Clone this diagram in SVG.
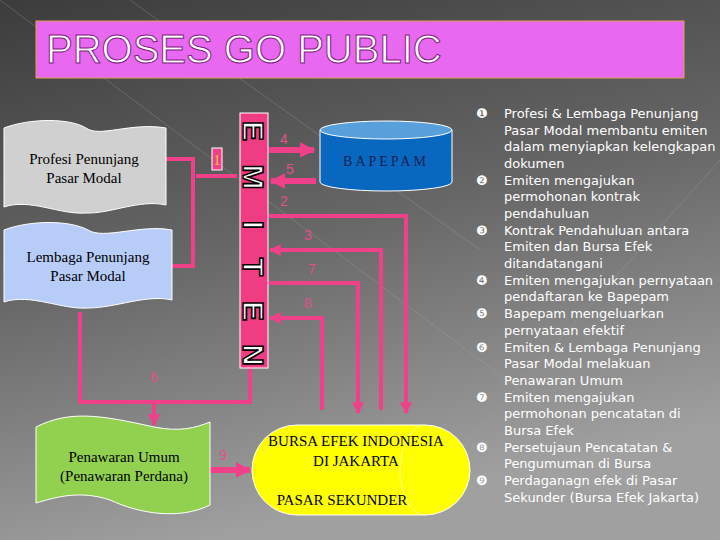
<svg xmlns="http://www.w3.org/2000/svg" width="720" height="540" viewBox="0 0 720 540">
<defs>
<linearGradient id="bg" x1="0" y1="0" x2="0.3" y2="1"><stop offset="0" stop-color="#3c3c3c"/><stop offset="0.5" stop-color="#666"/><stop offset="1" stop-color="#a0a0a0"/></linearGradient>
<marker id="ah" viewBox="0 0 10 10" refX="9" refY="5" markerWidth="3" markerHeight="3" orient="auto" markerUnits="strokeWidth"><path d="M0,0L10,5L0,10z" fill="#f0408a"/></marker>
<marker id="bh" viewBox="0 0 10 10" refX="9" refY="5" markerWidth="2.6" markerHeight="2.6" orient="auto" markerUnits="strokeWidth"><path d="M0,0L10,5L0,10z" fill="#f0408a"/></marker>
</defs>
<style>
.c{fill:none;stroke:#f0408a;stroke-width:4}
.cb{fill:none;stroke:#f0408a;stroke-width:6}
.n{font-family:"Liberation Sans",sans-serif;font-size:14px;fill:#e0508a}
.s{font-family:"Liberation Serif",serif;font-size:15px;fill:#000;text-anchor:middle}
.l{font-family:"DejaVu Sans",sans-serif;font-size:13px;fill:#fff}
.em{font-family:"Liberation Sans",sans-serif;font-weight:bold;font-size:30px;fill:#fff;stroke:#000;stroke-width:1.6;text-anchor:middle;paint-order:normal}
</style>
<rect width="720" height="540" fill="url(#bg)"/>
<path d="M0,0 L720,540 M130,0 L480,250 M380,540 L720,160" stroke="#aaa" stroke-width="0.6" opacity="0.5"/>
<g id="title">
<rect x="36" y="21" width="648" height="57" fill="#e868f0" stroke="#e0a050"/>
<text x="46" y="63" font-family="Liberation Sans,sans-serif" font-size="40" fill="#fff" stroke="#802080" stroke-width="1">PROSES GO PUBLIC</text>
</g>
<g id="connectors">
<path class="c" d="M166,159 H193 V266 H166 M196,176 H237"/>
<path class="cb" d="M268,150 H314" marker-end="url(#bh)"/>
<path class="cb" d="M316,181 H271" marker-end="url(#bh)"/>
<path class="c" d="M268,216 H406 V413" marker-end="url(#ah)"/>
<path class="c" d="M381,410 V250 H270" marker-end="url(#ah)"/>
<path class="c" d="M268,283 H358 V413" marker-end="url(#ah)"/>
<path class="c" d="M322,410 V318 H270" marker-end="url(#ah)"/>
<path class="c" d="M80,312 V402 H250 V368 M154,402 V425" marker-end="url(#ah)"/>
<path class="cb" d="M200,470 H250" marker-end="url(#bh)"/>
<text class="n" x="280" y="144">4</text>
<text class="n" x="286" y="174">5</text>
<text class="n" x="280" y="206">2</text>
<text class="n" x="304" y="240">3</text>
<text class="n" x="308" y="274">7</text>
<text class="n" x="304" y="308">8</text>
<text class="n" x="150" y="382">6</text>
<text class="n" x="219" y="460">9</text>
</g>
<g id="profesi">
<path d="M4,128 C30,118 70,118 86,128 C100,138 130,122 166,128 V205 C140,199 110,214 86,213 C60,215 30,198 4,207 Z" fill="#d0d0d0" stroke="#fff"/>
<text class="s" x="84" y="164">Profesi Penunjang</text><text class="s" x="84" y="183">Pasar Modal</text>
</g>
<g id="lembaga">
<path d="M4,230 C30,220 70,220 88,230 C104,240 140,224 172,230 V300 C146,294 116,308 88,308 C62,310 30,293 4,302 Z" fill="#b8ccf8" stroke="#fff"/>
<text class="s" x="88" y="262">Lembaga Penunjang</text><text class="s" x="88" y="281">Pasar Modal</text>
</g>
<g id="label1"><rect x="212" y="148" width="10" height="22" fill="#f0408a" stroke="#fff"/><text x="217" y="165" font-family="Liberation Serif,serif" font-size="14" fill="#ffd040" text-anchor="middle">1</text></g>
<g id="emiten">
<rect x="240" y="113" width="28" height="255" fill="#f03c82" stroke="#fff"/>
<g class="em">
<text transform="translate(254,131) rotate(90)" y="11">E</text>
<text transform="translate(254,177) rotate(90)" y="11">M</text>
<text transform="translate(254,225) rotate(90)" y="11">I</text>
<text transform="translate(254,267) rotate(90)" y="11">T</text>
<text transform="translate(254,311) rotate(90)" y="11">E</text>
<text transform="translate(254,355) rotate(90)" y="11">N</text>
</g>
</g>
<g id="bapepam">
<path d="M320,130 V182 A66,9 0 0 0 452,182 V130 Z" fill="#0868c0" stroke="#fff"/>
<ellipse cx="386" cy="130" rx="66" ry="9" fill="#58a0dc" stroke="#fff"/>
<text x="386" y="166" font-family="Liberation Serif,serif" font-size="14" fill="#102050" text-anchor="middle" letter-spacing="3">BAPEPAM</text>
</g>
<g id="penawaran">
<path d="M36,427 C70,410 100,415 154,427 C180,432 195,428 210,422 V505 C180,520 140,514 110,500 C80,490 56,497 36,503 Z" fill="#92d050" stroke="#fff"/>
<text class="s" x="124" y="462">Penawaran Umum</text><text class="s" x="124" y="481">(Penawaran Perdana)</text>
</g>
<g id="bursa">
<path d="M297,425 H425 A45,45 0 0 1 425,515 H297 A45,45 0 0 1 297,425 Z" fill="#ffff00" stroke="#fff"/>
<path d="M425,425 A25,45 0 0 0 425,515" fill="none" stroke="#ffff90"/>
<text class="s" x="356" y="446">BURSA EFEK INDONESIA</text><text class="s" x="356" y="466">DI JAKARTA</text>
<text class="s" x="342" y="505">PASAR SEKUNDER</text>
</g>
<g id="list" class="l">
<text x="476" y="118">❶</text><text x="504" y="118">Profesi &amp; Lembaga Penunjang</text>
<text x="504" y="135">Pasar Modal membantu emiten</text>
<text x="504" y="151">dalam menyiapkan kelengkapan</text>
<text x="504" y="168">dokumen</text>
<text x="476" y="185">❷</text><text x="504" y="185">Emiten mengajukan</text>
<text x="504" y="201">permohonan kontrak</text>
<text x="504" y="218">pendahuluan</text>
<text x="476" y="235">❸</text><text x="504" y="235">Kontrak Pendahuluan antara</text>
<text x="504" y="251">Emiten dan Bursa Efek</text>
<text x="504" y="268">ditandatangani</text>
<text x="476" y="285">❹</text><text x="504" y="285">Emiten mengajukan pernyataan</text>
<text x="504" y="301">pendaftaran ke Bapepam</text>
<text x="476" y="318">❺</text><text x="504" y="318">Bapepam mengeluarkan</text>
<text x="504" y="335">pernyataan efektif</text>
<text x="476" y="352">❻</text><text x="504" y="352">Emiten &amp; Lembaga Penunjang</text>
<text x="504" y="368">Pasar Modal melakuan</text>
<text x="504" y="385">Penawaran Umum</text>
<text x="476" y="402">❼</text><text x="504" y="402">Emiten mengajukan</text>
<text x="504" y="418">permohonan pencatatan di</text>
<text x="504" y="435">Bursa Efek</text>
<text x="476" y="452">❽</text><text x="504" y="452">Persetujaun Pencatatan &amp;</text>
<text x="504" y="468">Pengumuman di Bursa</text>
<text x="476" y="485">❾</text><text x="504" y="485">Perdaganagn efek di Pasar</text>
<text x="504" y="502">Sekunder (Bursa Efek Jakarta)</text>
</g>
</svg>
